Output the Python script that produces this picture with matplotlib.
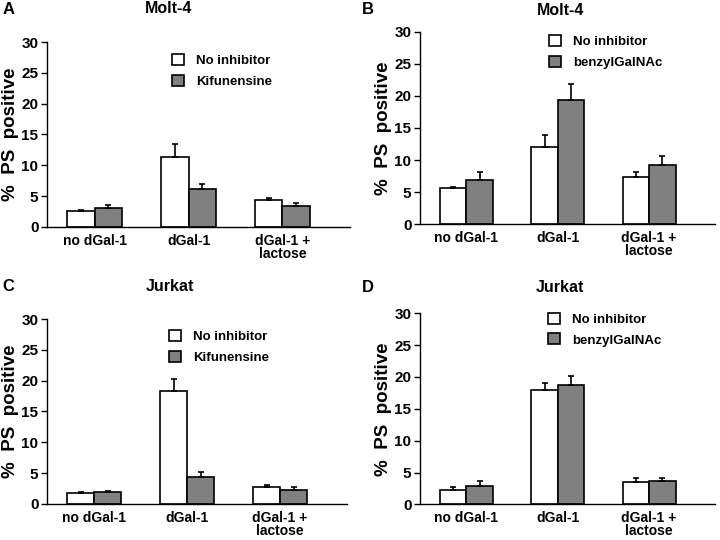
import numpy as np
import matplotlib
matplotlib.use("Agg")
import matplotlib.pyplot as plt

plt.rcParams["font.family"] = ["Liberation Sans", "DejaVu Sans"]
plt.rcParams["font.weight"] = "bold"

# ===== DATA =====
categories = ["no dGal-1", "dGal-1", "dGal-1 +\nlactose"]

# Panel A: Molt-4, Kifunensine
a_none = [2.6, 11.4, 4.4]
a_none_err = [0.2, 2.1, 0.3]
a_inh = [3.0, 6.1, 3.4]
a_inh_err = [0.6, 0.8, 0.4]

# Panel B: Molt-4, benzylGalNAc
b_none = [5.6, 12.0, 7.3]
b_none_err = [0.2, 1.9, 0.8]
b_inh = [6.9, 19.3, 9.2]
b_inh_err = [1.2, 2.6, 1.4]

# Panel C: Jurkat, Kifunensine
c_none = [1.7, 18.3, 2.7]
c_none_err = [0.3, 1.9, 0.3]
c_inh = [1.9, 4.3, 2.2]
c_inh_err = [0.2, 0.8, 0.6]

# Panel D: Jurkat, benzylGalNAc
d_none = [2.3, 17.9, 3.5]
d_none_err = [0.4, 1.1, 0.7]
d_inh = [2.9, 18.8, 3.7]
d_inh_err = [0.8, 1.4, 0.5]

panels = [
    ("A", "Molt-4", "Kifunensine", a_none, a_none_err, a_inh, a_inh_err),
    ("B", "Molt-4", "benzylGalNAc", b_none, b_none_err, b_inh, b_inh_err),
    ("C", "Jurkat", "Kifunensine", c_none, c_none_err, c_inh, c_inh_err),
    ("D", "Jurkat", "benzylGalNAc", d_none, d_none_err, d_inh, d_inh_err),
]

# axes rectangles in figure fraction [left, bottom, width, height]
rects = [
    [0.065, 0.580, 0.421, 0.342],
    [0.583, 0.585, 0.410, 0.356],
    [0.065, 0.067, 0.417, 0.342],
    [0.583, 0.066, 0.410, 0.354],
]
# legend anchors (axes coords) and title/letter positions (figure coords)
legend_pos = [(0.396, 0.962), (0.42, 1.01), (0.39, 0.97), (0.417, 1.031)]
title_pos = [(0.234, 0.985), (0.778, 0.981), (0.236, 0.469), (0.778, 0.467)]
letter_pos = [(0.003, 0.983), (0.503, 0.983), (0.003, 0.470), (0.503, 0.468)]

fig = plt.figure(figsize=(7.2, 5.4), dpi=100)
x = np.arange(len(categories))
width = 0.29

for i, (letter, title, inhibitor, none, none_err, inh, inh_err) in enumerate(panels):
    ax = fig.add_axes(rects[i])
    zeros = [0] * len(x)
    ax.bar(x - width / 2, none, width, color="white", edgecolor="black", linewidth=1.2,
           yerr=[zeros, none_err], capsize=2.5,
           error_kw=dict(ecolor="black", elinewidth=1.2, capthick=1.2),
           label="No inhibitor", zorder=2)
    ax.bar(x + width / 2, inh, width, color="#808080", edgecolor="black", linewidth=1.2,
           yerr=[zeros, inh_err], capsize=2.5,
           error_kw=dict(ecolor="black", elinewidth=1.2, capthick=1.2),
           label=inhibitor, zorder=2)

    ax.set_ylim(0, 30)
    ax.set_yticks([0, 5, 10, 15, 20, 25, 30])
    ax.set_xlim(-0.51, 2.72)
    ax.set_xticks(x)
    ax.set_xticklabels(categories, fontsize=10, fontweight="bold", linespacing=0.9)
    ax.tick_params(axis="x", length=0, pad=5)
    ax.tick_params(axis="y", length=4, width=1, labelsize=11, direction="out", pad=2)
    for lab in ax.get_yticklabels():
        lab.set_fontweight("bold")
    ax.spines["top"].set_visible(False)
    ax.spines["right"].set_visible(False)
    ax.spines["left"].set_linewidth(1)
    ax.spines["bottom"].set_linewidth(1)

    ax.set_ylabel("%  PS  positive", fontsize=13.5, fontweight="bold")
    ax.yaxis.set_label_coords(-0.093, 0.5)

    ax.legend(loc="upper left", bbox_to_anchor=legend_pos[i], frameon=False,
              fontsize=9.5, handlelength=0.9, handleheight=0.9, handletextpad=0.9,
              labelspacing=0.6, borderaxespad=0)

    fig.text(*title_pos[i], title, fontsize=11.5, fontweight="bold", ha="center", va="center")
    fig.text(*letter_pos[i], letter, fontsize=12, fontweight="bold", ha="left", va="center")

fig.savefig("out.png", dpi=100)
